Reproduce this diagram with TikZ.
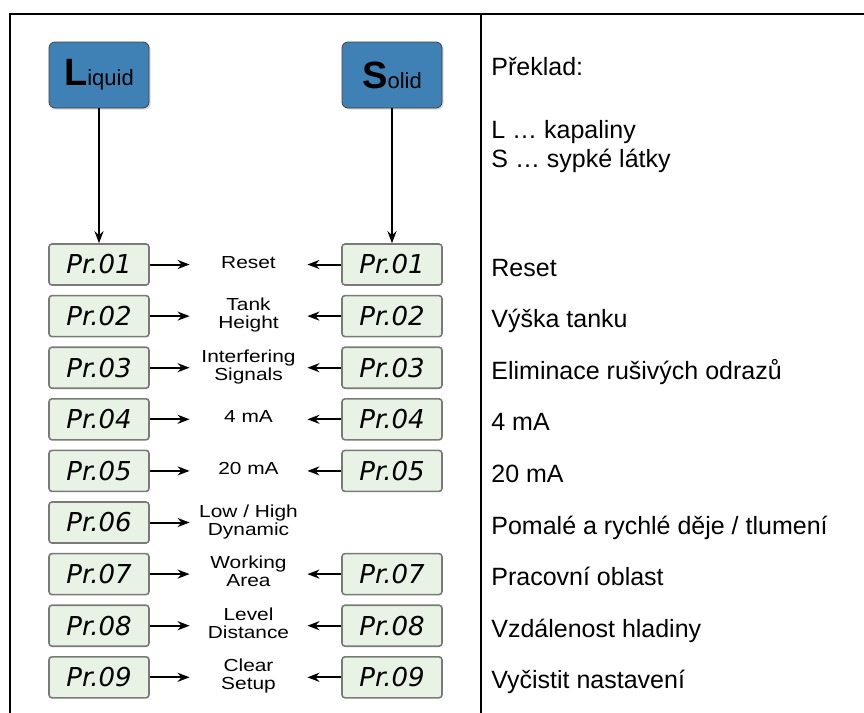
\documentclass[tikz,border=0pt]{standalone}
\usepackage{fontspec}
\usepackage{graphicx}
\setmainfont{Liberation Sans}
\newfontfamily\lcdfont{DejaVu Sans}
\usetikzlibrary{arrows.meta,shadows}
\definecolor{catblue}{HTML}{3F81B5}
\definecolor{lcdgreen}{HTML}{E8F3E6}
\definecolor{lcdframe}{HTML}{7A7A7A}
\newcommand{\parname}[1]{\scalebox{1.2}[1]{\begin{tabular}{@{}c@{}}#1\end{tabular}}}
\tikzset{
  catbox/.style={draw=black!75, fill=catblue, rounded corners=3pt, minimum width=50pt,
    minimum height=33pt, inner sep=0pt,
    drop shadow={shadow xshift=0.8pt, shadow yshift=-0.8pt, opacity=0.3}},
  lcd/.style={draw=lcdframe, line width=0.8pt, fill=lcdgreen, rounded corners=1.5pt,
    minimum width=50pt, minimum height=20.5pt, inner sep=0pt,
    font=\lcdfont\itshape\fontsize{13}{13}\selectfont},
  parlbl/.style={minimum width=58.5pt, inner sep=0pt, font=\fontsize{8.7}{9}\selectfont},
  cz/.style={anchor=base west, inner sep=0pt, font=\fontsize{12.5}{14}\selectfont},
  link/.style={-{Stealth[length=6pt,width=4.5pt]}, line width=1pt}
}
\begin{document}
\begin{tikzpicture}[x=0.5pt,y=-0.5pt]
        \useasboundingbox (0,0) rectangle (864,713);
        % frame of the table
        \draw [line width=1pt] (10,713) -- (10,14.3) -- (864,14.3);
        \draw [line width=1pt] (481,14.3) -- (481,713);
        % medium
        \node [catbox] (liq) at (99,75) {\fontsize{19}{19}\selectfont\bfseries L\fontsize{11}{11}\selectfont\mdseries iquid};
        \node [catbox] (sol) at (392,75) {\fontsize{19}{19}\selectfont\bfseries S\fontsize{11}{11}\selectfont\mdseries olid};
        % displays, liquid side
        \node [lcd] (l1) at (99,264.5) {Pr.01};
        \node [lcd] (l2) at (99,316.1) {Pr.02};
        \node [lcd] (l3) at (99,367.7) {Pr.03};
        \node [lcd] (l4) at (99,419.3) {Pr.04};
        \node [lcd] (l5) at (99,470.9) {Pr.05};
        \node [lcd] (l6) at (99,522.5) {Pr.06};
        \node [lcd] (l7) at (99,574.1) {Pr.07};
        \node [lcd] (l8) at (99,625.7) {Pr.08};
        \node [lcd] (l9) at (99,677.3) {Pr.09};
        % displays, solid side
        \node [lcd] (s1) at (392,264.5) {Pr.01};
        \node [lcd] (s2) at (392,316.1) {Pr.02};
        \node [lcd] (s3) at (392,367.7) {Pr.03};
        \node [lcd] (s4) at (392,419.3) {Pr.04};
        \node [lcd] (s5) at (392,470.9) {Pr.05};
        \node [lcd] (s7) at (392,574.1) {Pr.07};
        \node [lcd] (s8) at (392,625.7) {Pr.08};
        \node [lcd] (s9) at (392,677.3) {Pr.09};
        % parameter names
        \node [parlbl] (m1) at (248.5,264.5) {\parname{Reset}};
        \node [parlbl] (m2) at (248.5,316.1) {\parname{Tank\\Height}};
        \node [parlbl] (m3) at (248.5,367.7) {\parname{Interfering\\Signals}};
        \node [parlbl] (m4) at (248.5,419.3) {\parname{4 mA}};
        \node [parlbl] (m5) at (248.5,470.9) {\parname{20 mA}};
        \node [parlbl] (m6) at (248.5,522.5) {\parname{Low / High\\Dynamic}};
        \node [parlbl] (m7) at (248.5,574.1) {\parname{Working\\Area}};
        \node [parlbl] (m8) at (248.5,625.7) {\parname{Level\\Distance}};
        \node [parlbl] (m9) at (248.5,677.3) {\parname{Clear\\Setup}};
        % arrows
        \draw [link] (liq) -- (l1);
        \draw [link] (sol) -- (s1);
        \draw [link] (l1) -- (m1);
        \draw [link] (l2) -- (m2);
        \draw [link] (l3) -- (m3);
        \draw [link] (l4) -- (m4);
        \draw [link] (l5) -- (m5);
        \draw [link] (l6) -- (m6);
        \draw [link] (l7) -- (m7);
        \draw [link] (l8) -- (m8);
        \draw [link] (l9) -- (m9);
        \draw [link] (s1) -- (m1);
        \draw [link] (s2) -- (m2);
        \draw [link] (s3) -- (m3);
        \draw [link] (s4) -- (m4);
        \draw [link] (s5) -- (m5);
        \draw [link] (s7) -- (m7);
        \draw [link] (s8) -- (m8);
        \draw [link] (s9) -- (m9);
        % translation
        \node [cz] (head) at (491,75) {Překlad:};
        \node [cz] (kl) at (491,138) {L … kapaliny};
        \node [cz] (ks) at (491,167) {S … sypké látky};
        \node [cz] (t1) at (491,276) {Reset};
        \node [cz] (t2) at (491,327.6) {Výška tanku};
        \node [cz] (t3) at (491,379.2) {Eliminace rušivých odrazů};
        \node [cz] (t4) at (491,430.8) {4 mA};
        \node [cz] (t5) at (491,482.4) {20 mA};
        \node [cz] (t6) at (491,534) {Pomalé a rychlé děje / tlumení};
        \node [cz] (t7) at (491,585.6) {Pracovní oblast};
        \node [cz] (t8) at (491,637.2) {Vzdálenost hladiny};
        \node [cz] (t9) at (491,688.8) {Vyčistit nastavení};
\end{tikzpicture}
\end{document}
